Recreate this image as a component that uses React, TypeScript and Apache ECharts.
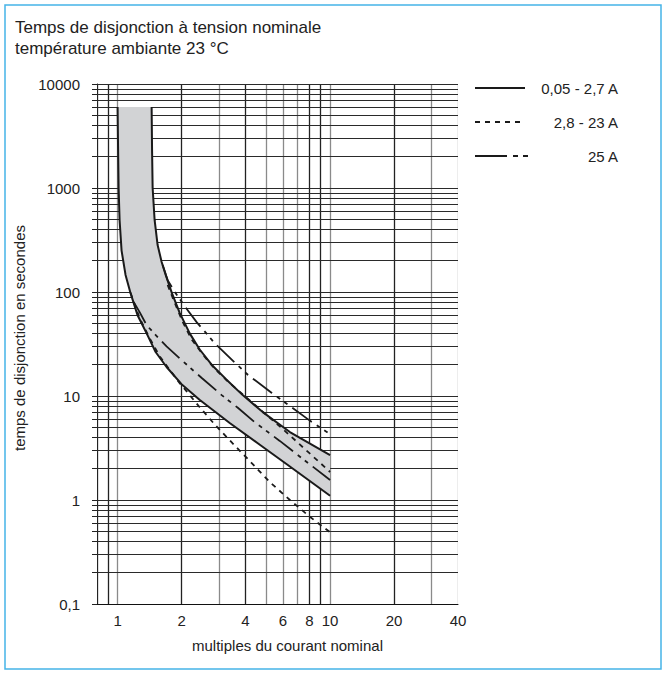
import React, { useEffect, useRef } from 'react';
import * as echarts from 'echarts';

const titleLines = ['Temps de disjonction à tension nominale', 'température ambiante 23 °C'];
const xAxisName = 'multiples du courant nominal';
const yAxisName = 'temps de disjonction en secondes';
const xTickLabels = [1, 2, 4, 6, 8, 10, 20, 40];
const yTickLabels = [0.1, 1, 10, 100, 1000, 10000];
const xGridValues = [0.8, 0.9, 1, 2, 3, 4, 5, 6, 7, 8, 9, 10, 20, 30, 40];
const xGridDark = [0.8, 0.9, 2, 4, 8, 9, 20];
const yGridValues = [
  0.1, 0.2, 0.3, 0.4, 0.5, 0.6, 0.7, 0.8, 0.9,
  1, 2, 3, 4, 5, 6, 7, 8, 9,
  10, 20, 30, 40, 50, 60, 70, 80, 90,
  100, 200, 300, 400, 500, 600, 700, 800, 900,
  1000, 2000, 3000, 4000, 5000, 6000, 7000, 8000, 9000,
  10000,
];
const legendLabels = ['0,05 - 2,7 A', '2,8 - 23 A', '25 A'];

// 0,05 - 2,7 A : lower and upper limit (band)
const smallLow = [[1, 6000], [1.005, 2500], [1.011, 1000], [1.022, 490], [1.044, 250], [1.09, 146], [1.15, 98], [1.24, 60], [1.37, 40], [1.51, 26.5], [1.7, 19], [2.0, 13], [2.43, 9.2], [3.37, 5.5], [4.67, 3.4], [6.47, 2.1], [10, 1.1]];
const smallHigh = [[1.446, 6000], [1.453, 2300], [1.462, 1000], [1.494, 490], [1.543, 283], [1.612, 194], [1.684, 146], [1.8, 98], [1.96, 63], [2.185, 40], [2.435, 28], [2.77, 20], [3.23, 14.6], [3.88, 10.2], [4.82, 7], [6.47, 4.5], [10, 2.7]];
// 2,8 - 23 A
const midHigh = [[1.72, 117], [1.86, 78], [2.03, 51], [2.23, 35], [2.52, 25], [2.87, 18.2], [3.37, 13.3], [3.97, 10], [4.77, 7.2], [5.93, 4.9], [7.6, 3.1], [10, 1.86]];
const midLow = [[1.15, 98], [1.27, 56], [1.415, 36], [1.58, 24], [1.76, 17.8], [1.96, 13.3], [2.185, 10.2], [2.435, 7.8], [2.87, 5.3], [3.48, 3.5], [4.19, 2.37], [5.2, 1.49], [6.47, 1.0], [8.03, 0.69], [10, 0.49]];
// 25 A
const bigHigh = [[1.63, 182], [1.72, 130], [1.86, 100], [2.07, 73], [2.36, 51], [2.63, 39.5], [2.87, 32], [3.56, 21], [4.1, 16], [5.32, 10.7], [6.47, 8], [8.03, 5.8], [10, 4.3]];
const bigLow = [[1.19, 80], [1.27, 64], [1.37, 48], [1.494, 39.5], [1.7, 30], [1.96, 23], [2.256, 17.8], [2.49, 14.9], [3.09, 10.2], [3.68, 7.7], [4.42, 5.6], [5.8, 3.7], [7.6, 2.4], [10, 1.56]];

const FONT = '"Liberation Sans", Arial, Helvetica, sans-serif';
const INK = '#222';
const DASH_MID = [5, 5];
const DASH_BIG = [24, 6, 4, 5, 4, 6];

export default function App() {
  const ref = useRef<HTMLDivElement>(null);
  useEffect(() => {
    if (!ref.current) return;
    const chart = echarts.init(ref.current, null, { renderer: 'svg' });
    const fmt = (v: number) => String(v).replace('.', ',');

    const gridData = [
      ...xGridValues.map((v) => ({
        coords: [[v, 0.1], [v, 10000]],
        lineStyle: { color: xGridDark.includes(v) ? '#222' : '#8a8a8a', width: 1.3, opacity: 1 },
      })),
      ...yGridValues.map((v) => ({
        coords: [[0.8, v], [40, v]],
        lineStyle: { color: '#2a2a2a', width: 1, opacity: 1 },
      })),
    ];

    const curve = (name: string, data: number[][], type: any, width = 1.8) => ({
      type: 'line',
      name,
      data,
      showSymbol: false,
      symbol: 'none',
      z: 5,
      silent: true,
      lineStyle: { color: '#1a1a1a', width, type },
    });

    const option: any = {
      animation: false,
      backgroundColor: '#fff',
      textStyle: { fontFamily: FONT },
      title: {
        text: titleLines.join('\n'),
        left: 15,
        top: 17,
        padding: 0,
        textStyle: { fontSize: 17, fontWeight: 'normal', lineHeight: 21, color: INK, fontFamily: FONT },
      },
      grid: { left: 97, right: 208, top: 84, bottom: 71 },
      xAxis: {
        type: 'log',
        logBase: 10,
        min: 0.8,
        max: 40,
        axisLine: { show: true, lineStyle: { color: '#111', width: 1 } },
        axisTick: { show: false },
        splitLine: { show: false },
        axisLabel: { customValues: xTickLabels, formatter: fmt, fontSize: 15, color: INK, margin: 9, fontFamily: FONT },
        name: xAxisName,
        nameLocation: 'middle',
        nameGap: 34,
        nameTextStyle: { fontSize: 15, color: INK, fontFamily: FONT, padding: [0, 0, 0, 20] },
      },
      yAxis: {
        type: 'log',
        logBase: 10,
        min: 0.1,
        max: 10000,
        axisLine: { show: true, lineStyle: { color: '#111', width: 1 } },
        axisTick: { show: true, customValues: yGridValues, length: 5, lineStyle: { color: '#222' } },
        splitLine: { show: false },
        axisLabel: { customValues: yTickLabels, formatter: fmt, fontSize: 15, color: INK, margin: 17, fontFamily: FONT },
        name: yAxisName,
        nameLocation: 'middle',
        nameGap: 58,
        nameTextStyle: { fontSize: 15, color: INK, fontFamily: FONT, padding: [0, 0, 0, 12] },
      },
      series: [
        {
          type: 'lines',
          coordinateSystem: 'cartesian2d',
          silent: true,
          z: 1,
          polyline: false,
          lineStyle: { opacity: 1, curveness: 0 },
          data: gridData,
        },
        {
          type: 'custom',
          coordinateSystem: 'cartesian2d',
          silent: true,
          z: 2,
          data: [[1, 1]],
          renderItem: (_params: any, api: any) => {
            const pts = [
              ...smallLow.map((p) => api.coord(p)),
              ...smallHigh.slice().reverse().map((p) => api.coord(p)),
            ];
            return { type: 'polygon', shape: { points: pts }, style: { fill: '#d2d3d5', stroke: 'none' } };
          },
        },
        curve(legendLabels[0], smallLow, 'solid', 2),
        curve(legendLabels[0], smallHigh, 'solid', 2),
        curve(legendLabels[1], midHigh, DASH_MID),
        curve(legendLabels[1], midLow, DASH_MID),
        curve(legendLabels[2], bigHigh, DASH_BIG),
        curve(legendLabels[2], bigLow, DASH_BIG),
      ],
      graphic: [
        {
          type: 'rect',
          shape: { x: 5, y: 5, width: 656, height: 664 },
          style: { fill: 'none', stroke: '#45b4e8', lineWidth: 1.5 },
          silent: true,
        },
        { type: 'line', shape: { x1: 475, y1: 88, x2: 525, y2: 88 }, style: { stroke: '#1a1a1a', lineWidth: 2 } },
        { type: 'line', shape: { x1: 475, y1: 122, x2: 525, y2: 122 }, style: { stroke: '#1a1a1a', lineWidth: 1.8, lineDash: DASH_MID } },
        { type: 'line', shape: { x1: 475, y1: 156, x2: 528, y2: 156 }, style: { stroke: '#1a1a1a', lineWidth: 1.8, lineDash: [32, 6, 5, 5, 5, 100] } },
        { type: 'text', x: 618, y: 88, style: { text: legendLabels[0], fill: INK, font: `15px ${FONT}`, align: 'right', verticalAlign: 'middle' } },
        { type: 'text', x: 618, y: 122, style: { text: legendLabels[1], fill: INK, font: `15px ${FONT}`, align: 'right', verticalAlign: 'middle' } },
        { type: 'text', x: 618, y: 156, style: { text: legendLabels[2], fill: INK, font: `15px ${FONT}`, align: 'right', verticalAlign: 'middle' } },
      ],
    };
    chart.setOption(option);
    return () => chart.dispose();
  }, []);
  return (
    <div
      ref={ref}
      style={{ position: 'absolute', left: 0, top: 0, width: 666, height: 675, background: '#fff' }}
    />
  );
}
